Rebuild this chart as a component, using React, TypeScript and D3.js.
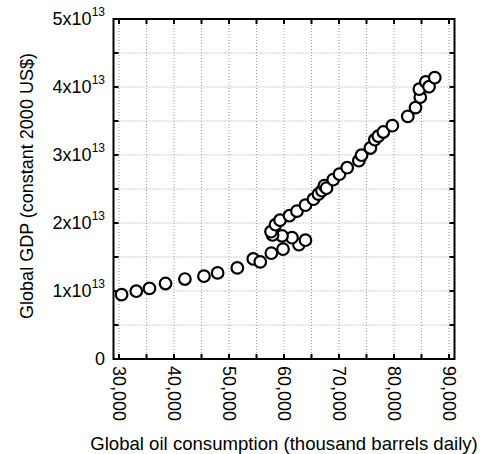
import React from "react";
import * as d3 from "d3";

const oilConsumption = [
  30470, 33140, 35540, 38460, 41980, 45450, 47930, 51510, 54410, 55680,
  57700, 59820, 62720, 63900, 61450, 59640, 57920, 57640, 58460, 59280,
  61000, 62360, 63900, 65360, 66260, 66900, 67350, 67720, 68950, 70080,
  71490, 73610, 74100, 75700, 76520, 77150, 78060, 79700, 82510, 83910,
  84780, 84600, 85780, 86370, 87410,
];
const globalGdp = [
  9.46e12, 9.97e12, 1.038e13, 1.11e13, 1.176e13, 1.218e13, 1.266e13, 1.34e13, 1.471e13, 1.428e13,
  1.556e13, 1.615e13, 1.681e13, 1.747e13, 1.784e13, 1.81e13, 1.824e13, 1.872e13, 1.975e13, 2.041e13,
  2.107e13, 2.174e13, 2.262e13, 2.35e13, 2.424e13, 2.475e13, 2.549e13, 2.512e13, 2.637e13, 2.718e13,
  2.813e13, 2.916e13, 2.997e13, 3.103e13, 3.225e13, 3.276e13, 3.338e13, 3.431e13, 3.568e13, 3.696e13,
  3.85e13, 3.968e13, 4.074e13, 4.004e13, 4.137e13,
];
const xTicks = [30000, 40000, 50000, 60000, 70000, 80000, 90000];
const xMinorTicks = d3.range(30000, 90001, 5000);
const yTicks = [0, 1e13, 2e13, 3e13, 4e13, 5e13];
const yMinorTicks = d3.range(0, 5.01e13, 0.5e13);
const xTitle = "Global oil consumption (thousand barrels daily)";
const yTitle = "Global GDP (constant 2000 US$)";

const W = 480;
const H = 454;
const L = 113.5, R = 454.5, T = 19, B = 359;
const font = "'Liberation Sans', Arial, Helvetica, sans-serif";

export default function App() {
  const x = d3.scaleLinear().domain([29000, 91000]).range([L, R]);
  const y = d3.scaleLinear().domain([0, 5e13]).range([B, T]);
  const tickLen = 5;
  const data = oilConsumption.map((o, i) => ({ o, g: globalGdp[i] }));
  const fmt = d3.format(",");

  return (
    <svg
      width={W}
      height={H}
      style={{ position: "absolute", left: 0, top: 0, background: "#fff" }}
      fontFamily={font}
    >
      <rect x={0} y={0} width={W} height={H} fill="#fff" />
      {/* grid */}
      {xMinorTicks.map((t) => (
        <line key={"gx" + t} x1={x(t)} x2={x(t)} y1={T} y2={B} stroke="#999" strokeWidth={1} strokeDasharray="1,2" />
      ))}
      {yMinorTicks.map((t) => (
        <line key={"gy" + t} x1={L} x2={R} y1={y(t)} y2={y(t)} stroke="#999" strokeWidth={1} strokeDasharray="1,2" />
      ))}
      {/* ticks */}
      {xMinorTicks.map((t) => (
        <g key={"tx" + t}>
          <line x1={x(t)} x2={x(t)} y1={B} y2={B - tickLen} stroke="#000" strokeWidth={2} />
          <line x1={x(t)} x2={x(t)} y1={T} y2={T + tickLen} stroke="#000" strokeWidth={2} />
        </g>
      ))}
      {yMinorTicks.map((t) => (
        <g key={"ty" + t}>
          <line x1={L} x2={L + tickLen} y1={y(t)} y2={y(t)} stroke="#000" strokeWidth={2} />
          <line x1={R} x2={R - tickLen} y1={y(t)} y2={y(t)} stroke="#000" strokeWidth={2} />
        </g>
      ))}
      {/* frame */}
      <rect x={L} y={T} width={R - L} height={B - T} fill="none" stroke="#000" strokeWidth={2} />
      {/* points */}
      {data.map((d, i) => (
        <circle key={i} cx={x(d.o)} cy={y(d.g)} r={5.8} fill="#fff" stroke="#000" strokeWidth={2.2} />
      ))}
      {/* y tick labels */}
      {yTicks.map((t) => {
        const m = Math.round(t / 1e13);
        return t === 0 ? (
          <text key={"yl" + t} x={105} y={y(t)} dy="0.35em" textAnchor="end" fontSize={18}>0</text>
        ) : (
          <text key={"yl" + t} x={105} y={y(t)} dy="0.35em" textAnchor="end" fontSize={18}>
            {m}x10
            <tspan fontSize={12} dy="-0.8em">13</tspan>
          </text>
        );
      })}
      {/* x tick labels */}
      {xTicks.map((t) => (
        <text
          key={"xl" + t}
          transform={`translate(${x(t)},${B + 7}) rotate(90)`}
          dy="0.35em"
          textAnchor="start"
          fontSize={18}
        >
          {fmt(t)}
        </text>
      ))}
      <text x={284} y={450} textAnchor="middle" fontSize={18.6}>{xTitle}</text>
      <text transform={`translate(33,186) rotate(-90)`} textAnchor="middle" fontSize={18}>{yTitle}</text>
    </svg>
  );
}
